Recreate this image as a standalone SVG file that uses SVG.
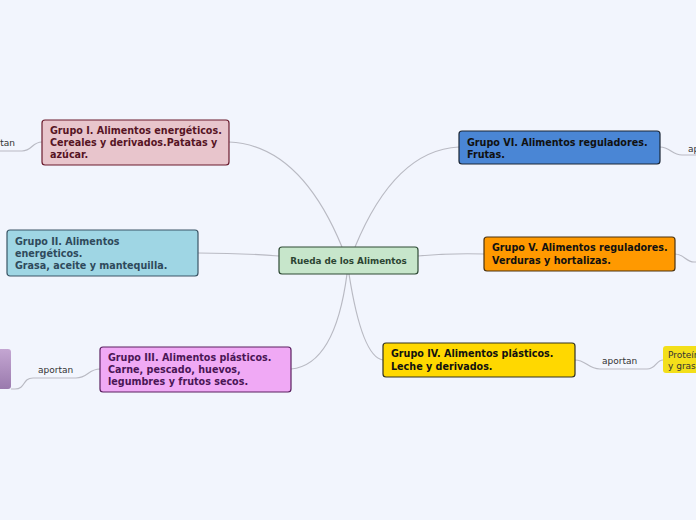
<svg xmlns="http://www.w3.org/2000/svg" width="696" height="520" viewBox="0 0 696 520">
<defs>
<linearGradient id="purp" x1="0" y1="0" x2="0" y2="1">
<stop offset="0" stop-color="#c4a6d2"/>
<stop offset="1" stop-color="#9a7aad"/>
</linearGradient>
</defs>
<style>
.bg{fill:#f2f5fd}
.c{fill:none;stroke:#b9bac3;stroke-width:1.2}
.t{font-family:"DejaVu Sans",Verdana,sans-serif;font-weight:bold;font-size:9.6px}
.l{font-family:"DejaVu Sans",Verdana,sans-serif;font-size:9px;fill:#333}
.box{stroke-width:1.2}
</style>
<rect class="bg" x="0" y="0" width="696" height="520"/>
<g id="connectors">
<path class="c" d="M229,142 Q300,145 342,247"/>
<path class="c" d="M355,247 Q395,150 459,147"/>
<path class="c" d="M279,256 Q240,253 198,253"/>
<path class="c" d="M418,256 Q450,253 484,254"/>
<path class="c" d="M347,274 Q335,365 291,369"/>
<path class="c" d="M349,274 Q362,357 383,360"/>
<path class="c" d="M42,142 C32,142 32,151 22,151 L0,151"/>
<path class="c" d="M100,369 C88,369 88,378 76,378 L33,378 C22,378 26,389 15,389 L11,389"/>
<path class="c" d="M660,147 C670,147 672,155 682,155 L696,155"/>
<path class="c" d="M675,254 C684,254 686,262 694,262 L696,262"/>
<path class="c" d="M575,360 C586,360 588,369 600,369 L647,369 C656,369 656,360 663,360"/>
</g>
<g id="center">
<rect class="box" x="279" y="247" width="139" height="27" rx="3" fill="#c7e6cb" stroke="#2e4a34"/>
<text class="t" x="348.5" y="264" text-anchor="middle" fill="#2c4532" style="font-size:8.8px">Rueda de los Alimentos</text>
</g>
<g id="g1">
<rect class="box" x="42" y="120" width="187" height="45" rx="3" fill="#e8c5cc" stroke="#6a1b2d"/>
<text class="t" fill="#561424"><tspan x="50" y="134">Grupo I. Alimentos energéticos.</tspan><tspan x="50" y="146">Cereales y derivados.Patatas y</tspan><tspan x="50" y="158">azúcar.</tspan></text>
</g>
<g id="g1-aportan">
<text class="l" x="15" y="146" text-anchor="end">aportan</text>
</g>
<g id="g2">
<rect class="box" x="7" y="230" width="191" height="46" rx="3" fill="#9fd6e4" stroke="#3a5566"/>
<text class="t" fill="#2f4a5c"><tspan x="15" y="245">Grupo II. Alimentos</tspan><tspan x="15" y="257">energéticos.</tspan><tspan x="15" y="269">Grasa, aceite y mantequilla.</tspan></text>
</g>
<g id="g3">
<rect class="box" x="100" y="347" width="191" height="45" rx="3" fill="#f0a9f5" stroke="#5a2060"/>
<text class="t" fill="#4a1556"><tspan x="108" y="361">Grupo III. Alimentos plásticos.</tspan><tspan x="108" y="373">Carne, pescado, huevos,</tspan><tspan x="108" y="385">legumbres y frutos secos.</tspan></text>
</g>
<g id="g3-aportan">
<text class="l" x="38" y="373">aportan</text>
</g>
<g id="g3-child">
<rect x="-10" y="349" width="21" height="40" rx="3" fill="url(#purp)"/>
</g>
<g id="g6">
<rect class="box" x="459" y="131" width="201" height="33" rx="3" fill="#4a86d5" stroke="#1a2636"/>
<text class="t" fill="#111"><tspan x="467" y="146">Grupo VI. Alimentos reguladores.</tspan><tspan x="467" y="158">Frutas.</tspan></text>
</g>
<g id="g6-aportan">
<text class="l" x="688" y="152">aportan</text>
</g>
<g id="g5">
<rect class="box" x="484" y="237" width="191" height="34" rx="3" fill="#ff9900" stroke="#4a3310"/>
<text class="t" fill="#111"><tspan x="492" y="251">Grupo V. Alimentos reguladores.</tspan><tspan x="492" y="264">Verduras y hortalizas.</tspan></text>
</g>
<g id="g4">
<rect class="box" x="383" y="343" width="192" height="34" rx="3" fill="#ffd800" stroke="#333320"/>
<text class="t" fill="#111"><tspan x="391" y="357">Grupo IV. Alimentos plásticos.</tspan><tspan x="391" y="370">Leche y derivados.</tspan></text>
</g>
<g id="g4-aportan">
<text class="l" x="602" y="364">aportan</text>
</g>
<g id="g4-child">
<rect x="663" y="346" width="50" height="27" rx="3" fill="#f3df1a"/>
<text class="l" fill="#333"><tspan x="668" y="358">Proteínas</tspan><tspan x="668" y="369">y grasas</tspan></text>
</g>
</svg>
